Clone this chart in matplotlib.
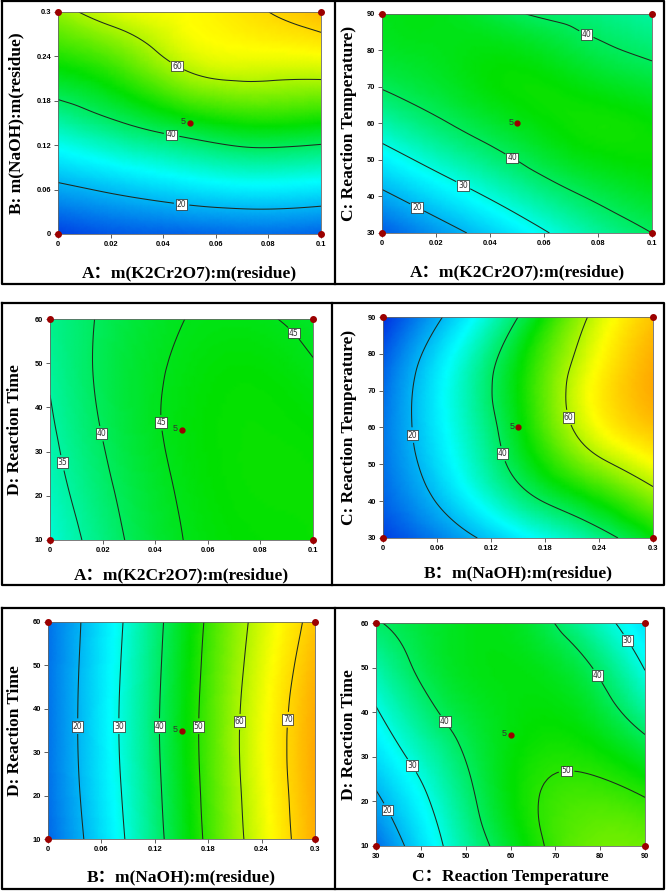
import numpy as np
import matplotlib
matplotlib.use('Agg')
import matplotlib.pyplot as plt
import matplotlib.tri as mtri
from matplotlib.colors import LinearSegmentedColormap
from matplotlib.lines import Line2D

# ---------------- data ----------------
A_levels = [0, 0.025, 0.05, 0.075, 0.1]
B_levels = [0, 0.075, 0.15, 0.225, 0.3]
C_levels = [30, 45, 60, 75, 90]
D_levels = [10, 22.5, 35, 47.5, 60]

# response grids: rows follow the y-factor levels (bottom -> top), columns the x-factor levels
z_AB = [[7, 10, 11, 12, 11],
        [21, 24.7, 28, 30, 29],
        [34.5, 40, 45, 48, 47],
        [47, 52.5, 61, 63, 63],
        [58, 64, 66, 69.3, 73]]
z_AC = [[10, 18, 26, 34, 40],
        [22.5, 30, 37, 43, 46],
        [34, 40, 45, 48, 47],
        [42.5, 45, 47, 44, 41],
        [45, 45, 40.5, 38, 35]]
z_AD = [[31, 39, 44.9, 47, 47.5],
        [33, 40.3, 45.5, 47.5, 47.5],
        [34.3, 41.5, 46, 47.5, 47],
        [35.4, 42, 45.7, 47, 45.5],
        [36.5, 41.5, 44.9, 45.5, 44]]
z_BC = [[7, 16, 26, 35, 46],
        [12, 25.5, 40, 51, 61],
        [13, 29, 45.5, 63, 72],
        [11, 29, 46.5, 64, 75],
        [5, 22, 40, 59.5, 72]]
z_BD = [[11.5, 27.5, 44.5, 61, 74.5],
        [12.5, 28.5, 45.2, 61.7, 75],
        [12.8, 29, 45.6, 62, 75],
        [12.7, 28.7, 45.2, 61.2, 74],
        [12.4, 28, 44.5, 60, 72]]
z_CD = [[12, 30, 44, 54, 55],
        [20, 33.7, 46.5, 51.5, 49],
        [27, 38.5, 46, 47, 40],
        [33, 43, 46, 43, 31],
        [39.5, 44, 45, 36.3, 25]]

contour_levels_AB = [20, 40, 60, 70]
contour_levels_AC = [20, 30, 40]
contour_levels_AD = [35, 40, 45]
contour_levels_BC = [20, 40, 60]
contour_levels_BD = [20, 30, 40, 50, 60, 70]
contour_levels_CD = [20, 30, 40, 50]
labelled_levels_AB = [20, 40, 60]

center_runs = 5

A_ticks = [0, 0.02, 0.04, 0.06, 0.08, 0.1]
A_ticklabels = ['0', '0.02', '0.04', '0.06', '0.08', '0.1']
B_ticks = [0, 0.06, 0.12, 0.18, 0.24, 0.3]
B_ticklabels = ['0', '0.06', '0.12', '0.18', '0.24', '0.3']
C_ticks = [30, 40, 50, 60, 70, 80, 90]
C_ticklabels = ['30', '40', '50', '60', '70', '80', '90']
D_ticks = [10, 20, 30, 40, 50, 60]
D_ticklabels = ['10', '20', '30', '40', '50', '60']

xlabel_A = 'A\uff1am(K2Cr2O7):m(residue)'
xlabel_B = 'B\uff1am(NaOH):m(residue)'
xlabel_C = 'C\uff1aReaction Temperature'
ylabel_B = 'B: m(NaOH):m(residue)'
ylabel_C = 'C: Reaction Temperature)'
ylabel_D = 'D: Reaction Time'

# ---------------- style ----------------
W, H = 666, 892
fig = plt.figure(figsize=(W / 100, H / 100), dpi=100)

cmap = LinearSegmentedColormap.from_list('de', [
    (0.0, (0.0, 0.0, 0.86)),
    (28 / 85, (0.0, 1.0, 1.0)),
    (47 / 85, (0.0, 0.88, 0.0)),
    (66 / 85, (1.0, 1.0, 0.0)),
    (1.0, (1.0, 0.3, 0.0))])
VMIN, VMAX = 0, 85

label_font = dict(family=['Liberation Serif', 'Noto Sans CJK SC'], weight='bold', size=12.5)
tick_font = dict(family='Liberation Sans', weight='bold', size=5.4)


def add_ax(l, t, r, b):
    return fig.add_axes([l / W, 1 - b / H, (r - l) / W, (b - t) / H])


def panel(box, xl, yl, z, levels, xt, xtl, yt, ytl, xlab, ylab, manual,
          xlab_y, ylab_x, lab_levels=None):
    l, t, r, b = box
    ax = add_ax(*box)
    X, Y = np.meshgrid(xl, yl)
    tri = mtri.Triangulation(X.ravel(), Y.ravel())
    refiner = mtri.UniformTriRefiner(tri)
    tri_r, z_r = refiner.refine_field(np.asarray(z, float).ravel(), subdiv=4)
    ax.tripcolor(tri_r, z_r, shading='gouraud', cmap=cmap, vmin=VMIN, vmax=VMAX)
    cs = ax.tricontour(tri_r, z_r, levels=levels, colors='#1e2a1e', linewidths=0.75)
    lbls = ax.clabel(cs, levels=lab_levels if lab_levels is not None else levels,
                     fmt='%d', manual=manual, inline=True, fontsize=5.5, inline_spacing=3)
    for tx in lbls:
        tx.set_bbox(dict(facecolor='white', edgecolor='#222222', linewidth=0.5, pad=0.6))
        tx.set_color('#333333')
        tx.set_rotation(0)
    ax.set_xlim(xl[0], xl[-1])
    ax.set_ylim(yl[0], yl[-1])
    # design points: factorial corners and centre
    cx = [xl[0], xl[-1], xl[0], xl[-1]]
    cy = [yl[0], yl[0], yl[-1], yl[-1]]
    ax.plot(cx, cy, 'o', color='#9b0000', ms=4, clip_on=False, zorder=5)
    xc, yc = xl[len(xl) // 2], yl[len(yl) // 2]
    ax.plot([xc], [yc], 'o', color='#9b0000', ms=3.5, zorder=5)
    ax.annotate(str(center_runs), xy=(xc, yc), xytext=(-2.5, 0.8), textcoords='offset points',
                ha='right', va='center', fontsize=6.5, color='#333333', family='Liberation Sans')
    ax.set_xticks(xt)
    ax.set_xticklabels(xtl, **tick_font)
    ax.set_yticks(yt)
    ax.set_yticklabels(ytl, **tick_font)
    ax.tick_params(direction='out', length=3, width=0.6, color='#444444', pad=2)
    for s in ax.spines.values():
        s.set_linewidth(0.6)
        s.set_color('#666666')
    ax.set_xlabel(xlab, va='center', **label_font)
    ax.set_ylabel(ylab, va='center', **label_font)
    ax.xaxis.set_label_coords(0.5, (b - xlab_y) / (b - t))
    ax.yaxis.set_label_coords((ylab_x - l) / (r - l), 0.5)
    return ax


panel((58, 12, 321, 234), A_levels, B_levels, z_AB, contour_levels_AB,
      A_ticks, A_ticklabels, B_ticks, B_ticklabels, xlabel_A, ylabel_B,
      [(0.047, 0.04), (0.043, 0.13), (0.045, 0.225)], 273, 16, labelled_levels_AB)
panel((382, 14, 652, 233), A_levels, C_levels, z_AC, contour_levels_AC,
      A_ticks, A_ticklabels, C_ticks, C_ticklabels, xlabel_A, ylabel_C,
      [(0.013, 37), (0.03, 43), (0.047, 49), (0.076, 85)], 272, 349)
panel((50, 319, 313, 540), A_levels, D_levels, z_AD, contour_levels_AD,
      A_ticks, A_ticklabels, D_ticks, D_ticklabels, xlabel_A, ylabel_D,
      [(0.005, 27.5), (0.019, 34), (0.042, 36.5), (0.093, 57)], 575, 15)
panel((383, 317, 653, 538), B_levels, C_levels, z_BC, contour_levels_BC,
      B_ticks, B_ticklabels, C_ticks, C_ticklabels, xlabel_B, ylabel_C,
      [(0.035, 58), (0.135, 53), (0.21, 63)], 573, 349)
panel((48, 622, 315, 839), B_levels, D_levels, z_BD, contour_levels_BD,
      B_ticks, B_ticklabels, D_ticks, D_ticklabels, xlabel_B, ylabel_D,
      [(0.033, 36), (0.078, 36), (0.122, 36), (0.163, 36), (0.215, 37), (0.268, 37.5)], 877, 15)
panel((376, 623, 645, 846), C_levels, D_levels, z_CD, contour_levels_CD,
      C_ticks, C_ticklabels, D_ticks, D_ticklabels, xlabel_C, ylabel_D,
      [(32.5, 18), (38, 28), (45.5, 38), (79, 48), (86, 56), (72.5, 27)], 877, 349)

# row frames
def frame(l, t, r, b, mid):
    kw = dict(color='black', linewidth=1.6, transform=fig.transFigure)
    X = lambda v: v / W
    Yf = lambda v: 1 - v / H
    fig.add_artist(Line2D([X(l), X(r), X(r), X(l), X(l)],
                          [Yf(t), Yf(t), Yf(b), Yf(b), Yf(t)], **kw))
    fig.add_artist(Line2D([X(mid), X(mid)], [Yf(t), Yf(b)], **kw))

frame(2, 1, 664, 284, 335)
frame(2, 303, 664, 585, 332)
frame(2, 608, 664, 889, 335)

fig.savefig('out.png', dpi=100)
